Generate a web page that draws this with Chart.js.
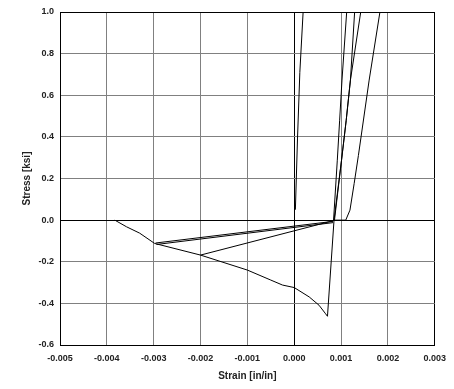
<!DOCTYPE html>
<html>
<head>
<meta charset="utf-8">
<script src="https://cdn.jsdelivr.net/npm/chart.js@4/dist/chart.umd.min.js"></script>
<style>
  body { margin: 0; background: #fff; }
  #wrap { width: 454px; height: 389px; }
</style>
</head>
<body>
<div id="wrap"><canvas id="stress-strain-chart" width="454" height="389"></canvas></div>
<script>
// axis ranges
const strainTicks = [-0.005, 0.003, 0.001];
const stressTicks = [-0.6, 1.0, 0.2];

// first tension branch, close to zero strain
const initStrain = [0.000025, 0.00007, 0.00012, 0.00019];
const initStress = [0.05, 0.39, 0.71, 1.0];

// compression: drop to the peak, then the softening envelope
const envStrain = [0.00085, 0.00071, 0.00067, 0.00053, 0.00032, 0.0, -0.00025, -0.0005, -0.001, -0.002, -0.00298, -0.0033, -0.00358, -0.00383];
const envStress = [0.0, -0.462, -0.45, -0.409, -0.369, -0.324, -0.312, -0.288, -0.240, -0.168, -0.112, -0.0625, -0.032, 0.0];

// unloading from the compression envelope back to the crack point
const unloadAStrain = [-0.002, 0.00083];
const unloadAStress = [-0.168, -0.003];
const unloadBStrain = [-0.00296, 0.00083];
const unloadBStress = [-0.110, -0.006];
const unloadCStrain = [-0.00294, 0.00083];
const unloadCStress = [-0.117, -0.012];

// reloading in tension
const reloadAStrain = [0.00084, 0.00092, 0.00097, 0.00102, 0.00112];
const reloadAStress = [0.0, 0.288, 0.48, 0.673, 1.0];
const reloadBStrain = [0.00085, 0.00101, 0.00111, 0.0012, 0.00129];
const reloadBStress = [0.0, 0.288, 0.48, 0.673, 1.0];
const reloadCStrain = [0.00086, 0.00101, 0.00111, 0.0012, 0.00142];
const reloadCStress = [0.0, 0.288, 0.48, 0.673, 1.0];
const reloadDStrain = [0.00085, 0.0011, 0.00119, 0.00128, 0.00137, 0.0016, 0.00183];
const reloadDStress = [0.0, 0.0, 0.048, 0.176, 0.31, 0.673, 1.0];

function toPoints(xs, ys) {
  let pts = [];
  xs.forEach(function (x, i) {
    pts.push({x: x, y: ys[i]});
  });
  return pts;
}

function branch(xs, ys) {
  return {
    data: toPoints(xs, ys),
    showLine: true,
    borderColor: '#000',
    borderWidth: 1,
    pointRadius: 0,
    tension: 0
  };
}

function gridColor(ctx) {
  let v = ctx.tick.value;
  let last = ctx.scale.ticks.length - 1;
  if (Math.abs(v) < 1e-9 || ctx.index === 0 || ctx.index === last) return '#000';
  return '#808080';
}

let ctx = document.getElementById('stress-strain-chart');

let chart = new Chart(ctx, {
  type: 'scatter',
  data: {
    datasets: [
      branch(initStrain, initStress),
      branch(envStrain, envStress),
      branch(unloadAStrain, unloadAStress),
      branch(unloadBStrain, unloadBStress),
      branch(unloadCStrain, unloadCStress),
      branch(reloadAStrain, reloadAStress),
      branch(reloadBStrain, reloadBStress),
      branch(reloadCStrain, reloadCStress),
      branch(reloadDStrain, reloadDStress)
    ]
  },
  options: {
    responsive: false,
    animation: false,
    layout: { padding: { top: 12, right: 18, left: 0, bottom: 0 } },
    plugins: { legend: { display: false }, tooltip: { enabled: false } },
    scales: {
      x: {
        type: 'linear',
        min: strainTicks[0],
        max: strainTicks[1],
        afterFit: function (scale) { scale.height = 44; },
        ticks: {
          stepSize: strainTicks[2],
          padding: 8,
          color: '#222',
          font: { family: 'Liberation Sans, Arial', size: 9, weight: 'bold' },
          callback: function (v) { return v.toFixed(3); }
        },
        grid: { color: gridColor, drawTicks: false, lineWidth: 1 },
        border: { color: '#000' },
        title: {
          display: true,
          text: 'Strain [in/in]',
          color: '#222',
          padding: { top: 0, bottom: 7 },
          font: { family: 'Liberation Sans, Arial', size: 10, weight: 'bold' }
        }
      },
      y: {
        type: 'linear',
        min: stressTicks[0],
        max: stressTicks[1],
        afterFit: function (scale) { scale.width = 60; },
        ticks: {
          stepSize: stressTicks[2],
          padding: 6,
          color: '#222',
          font: { family: 'Liberation Sans, Arial', size: 9, weight: 'bold' },
          callback: function (v) { return v.toFixed(1); }
        },
        grid: { color: gridColor, drawTicks: false, lineWidth: 1 },
        border: { color: '#000' },
        title: {
          display: true,
          text: 'Stress [ksi]',
          color: '#222',
          padding: { top: 21, bottom: 0 },
          font: { family: 'Liberation Sans, Arial', size: 10, weight: 'bold' }
        }
      }
    }
  }
});
</script>
</body>
</html>
